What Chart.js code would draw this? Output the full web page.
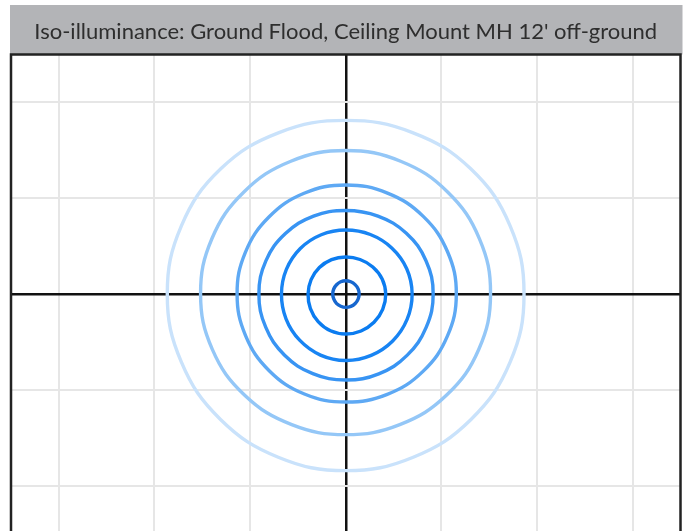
<!DOCTYPE html>
<html>
<head>
<meta charset="utf-8">
<script src="https://cdn.jsdelivr.net/npm/chart.js@4.4.1/dist/chart.umd.min.js"></script>
<style>
  html, body { margin: 0; padding: 0; background: #ffffff; overflow: hidden; }
  #wrap { width: 689px; height: 545px; }
</style>
</head>
<body>
<div id="wrap"><canvas id="c" width="689" height="545"></canvas></div>
<script>
// ---- data (feet; grid every 5 ft) ----
const titleText = "Iso-illuminance: Ground Flood, Ceiling Mount MH 12' off-ground";
const xTicks = [-15, -10, -5, 0, 5, 10, 15];
const yTicks = [-10, -5, 0, 5, 10];
const xRange = [-17.5, 17.5];
const yRange = [-12.5, 12.5];
// contour radius (ft) at each angle, angles CCW from +x axis
const anglesDeg = [0, 22.5, 45, 67.5, 90, 112.5, 135, 157.5, 180, 202.5, 225, 247.5, 270, 292.5, 315, 337.5];
const contour1 = [0.70, 0.70, 0.69, 0.69, 0.69, 0.69, 0.68, 0.68, 0.68, 0.68, 0.69, 0.69, 0.70, 0.70, 0.70, 0.70];
const contour2 = [2.09, 2.06, 2.00, 1.95, 1.93, 1.94, 1.95, 1.96, 1.97, 2.00, 2.04, 2.08, 2.09, 2.09, 2.09, 2.09];
const contour3 = [3.47, 3.45, 3.40, 3.36, 3.34, 3.35, 3.36, 3.36, 3.36, 3.38, 3.41, 3.45, 3.47, 3.47, 3.47, 3.47];
const contour4 = [4.57, 4.54, 4.48, 4.40, 4.36, 4.40, 4.46, 4.52, 4.54, 4.53, 4.52, 4.50, 4.49, 4.51, 4.53, 4.55];
const contour5 = [5.78, 5.76, 5.73, 5.70, 5.69, 5.69, 5.68, 5.68, 5.68, 5.67, 5.66, 5.65, 5.64, 5.67, 5.71, 5.75];
const contour6 = [7.57, 7.56, 7.53, 7.50, 7.49, 7.50, 7.53, 7.57, 7.59, 7.55, 7.47, 7.38, 7.34, 7.38, 7.46, 7.53];
const contour7 = [9.32, 9.30, 9.24, 9.12, 9.06, 9.12, 9.24, 9.30, 9.33, 9.30, 9.26, 9.22, 9.22, 9.22, 9.26, 9.30];
const contours = [contour7, contour6, contour5, contour4, contour3, contour2, contour1];
const contourColors = ['#c9e2fb', '#94c7f7', '#5ea9f4', '#3894f3', '#1884f3', '#0b7cf0', '#1767cf'];

// closed loop: [last, p0, p1, ..., last, p0, p1]; first and last segments hidden
function toPoints(radii) {
  const pts = radii.map((r, i) => {
    const a = anglesDeg[i] * Math.PI / 180;
    return { x: r * Math.cos(a), y: r * Math.sin(a) };
  });
  return [pts[pts.length - 1], ...pts, pts[0], pts[1]];
}

const datasets = contours.map((radii, i) => {
  const data = toPoints(radii);
  const n = data.length;
  return {
    data,
    showLine: true,
    borderColor: contourColors[i],
    backgroundColor: contourColors[i],
    borderWidth: 3.4,
    pointRadius: 0,
    tension: 0.4,
    fill: false,
    segment: {
      borderColor: (ctx) => (ctx.p0DataIndex === 0 || ctx.p1DataIndex === n - 1) ? 'rgba(0,0,0,0)' : undefined
    }
  };
});

const titleBg = {
  id: 'titleBg',
  beforeDraw(chart) {
    const tb = chart.titleBlock, ca = chart.chartArea, ctx = chart.ctx;
    ctx.save();
    ctx.fillStyle = '#b3b4b7';
    ctx.fillRect(ca.left - 1, tb.top, ca.right - ca.left + 3, tb.bottom - tb.top);
    ctx.restore();
  },
  afterDraw(chart) {
    const ca = chart.chartArea, ctx = chart.ctx;
    ctx.save();
    ctx.strokeStyle = '#222222';
    ctx.lineWidth = 2.5;
    ctx.strokeRect(ca.left, ca.top, ca.right - ca.left, ca.bottom - ca.top);
    ctx.restore();
  }
};

const gridColor = (ctx) => (ctx.tick && ctx.tick.value === 0) ? '#111111' : '#e6e6e6';
const gridWidth = (ctx) => (ctx.tick && ctx.tick.value === 0) ? 2.5 : 2;

new Chart(document.getElementById('c'), {
  type: 'scatter',
  data: { datasets },
  plugins: [titleBg],
  options: {
    responsive: false,
    animation: false,
    devicePixelRatio: 1,
    layout: { padding: { left: 11, right: 8.5, top: 5, bottom: 11.5 } },
    plugins: {
      legend: { display: false },
      tooltip: { enabled: false },
      title: {
        display: true,
        text: titleText,
        color: '#2e2e2e',
        font: { family: 'Lato', size: 22, weight: 'normal', lineHeight: 1.2 },
        padding: { top: 14, bottom: 9.1 }
      }
    },
    scales: {
      x: {
        type: 'linear', min: xRange[0], max: xRange[1],
        afterBuildTicks: (s) => { s.ticks = xTicks.map(v => ({ value: v })); },
        ticks: { display: false },
        grid: { color: gridColor, lineWidth: gridWidth, drawTicks: false },
        border: { display: false }
      },
      y: {
        type: 'linear', min: yRange[0], max: yRange[1],
        afterBuildTicks: (s) => { s.ticks = yTicks.map(v => ({ value: v })); },
        ticks: { display: false },
        grid: { color: gridColor, lineWidth: gridWidth, drawTicks: false },
        border: { display: false }
      }
    }
  }
});
</script>
</body>
</html>
